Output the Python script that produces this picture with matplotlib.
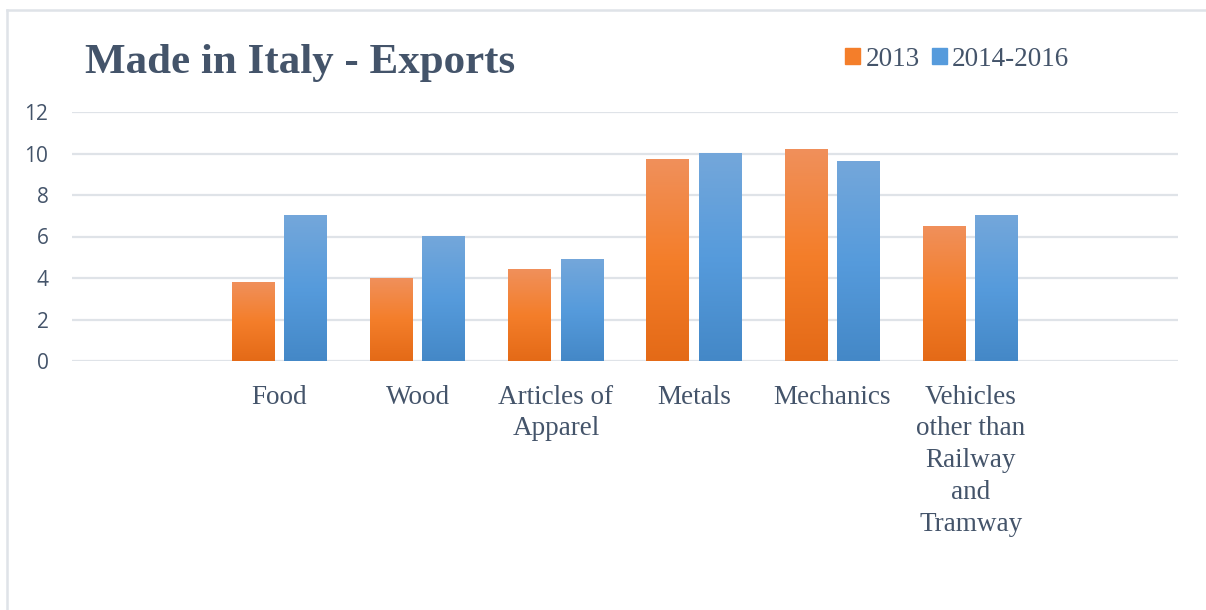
import numpy as np
import matplotlib
matplotlib.use("Agg")
import matplotlib.pyplot as plt
from matplotlib.colors import LinearSegmentedColormap
from matplotlib.patches import Rectangle
from matplotlib.lines import Line2D

# Categories (empty slots at both ends keep the category spacing of the layout)
categories = ["", "Food", "Wood", "Articles of\nApparel", "Metals", "Mechanics",
              "Vehicles\nother than\nRailway\nand\nTramway", ""]
exports_2013 = [np.nan, 3.8, 4.0, 4.4, 9.7, 10.2, 6.5, np.nan]
exports_2014_2016 = [np.nan, 7.0, 6.0, 4.9, 10.0, 9.6, 7.0, np.nan]
series_labels = ["2013", "2014-2016"]
y_ticks = [0, 2, 4, 6, 8, 10, 12]

TEXT = "#44546A"
GRID = "#DFE3E8"
orange_grad = ["#E46A17", "#F47E2A", "#F0905B"]   # bottom -> middle -> top
blue_grad = ["#4488C7", "#569BDC", "#74A7DA"]

fig = plt.figure(figsize=(12.06, 6.10), dpi=100)
ax = fig.add_axes([72 / 1206, 1 - 361 / 610, 1106 / 1206, 249 / 610])

x = np.arange(len(categories))
width = 0.31
offset = 0.19

bars_a = ax.bar(x - offset, exports_2013, width, color=orange_grad[1], zorder=2)
bars_b = ax.bar(x + offset, exports_2014_2016, width, color=blue_grad[1], zorder=2)


def paint_gradient(bars, colors):
    cmap = LinearSegmentedColormap.from_list("g", colors)
    grad = np.linspace(0, 1, 256).reshape(-1, 1)
    for b in bars:
        h = b.get_height()
        if not np.isfinite(h) or h == 0:
            continue
        x0 = b.get_x()
        w = b.get_width()
        ax.imshow(grad, extent=(x0, x0 + w, 0, h), origin="lower",
                  cmap=cmap, aspect="auto", zorder=3, interpolation="bilinear")


paint_gradient(bars_a, orange_grad)
paint_gradient(bars_b, blue_grad)

ax.set_xlim(-0.5, len(categories) - 0.5)
ax.set_ylim(0, 12)
ax.set_yticks(y_ticks)
ax.set_xticks(x)
ax.set_xticklabels(categories, fontfamily="Liberation Serif", fontsize=19.5,
                   color=TEXT, linespacing=1.36, va="top")
ax.tick_params(axis="x", length=0, pad=17)
ax.tick_params(axis="y", length=0, pad=17, labelsize=15, labelcolor="#44546A")
for lbl in ax.get_yticklabels():
    lbl.set_fontfamily("Open Sans")

ax.grid(axis="y", color=GRID, linewidth=1.6, zorder=0)
ax.set_axisbelow(True)
for s in ax.spines.values():
    s.set_visible(False)

# Title
fig.text(85 / 1206, 1 - 73 / 610, "Made in Italy - Exports", fontfamily="Liberation Serif",
         fontweight="bold", fontsize=31, color=TEXT, ha="left", va="baseline")

# Legend
handles = [Rectangle((0, 0), 1, 1, color=orange_grad[1]),
           Rectangle((0, 0), 1, 1, color=blue_grad[1])]
leg = fig.legend(handles, series_labels, loc="center left",
                 bbox_to_anchor=(845 / 1206, 1 - 59 / 610), ncol=2, frameon=False,
                 prop={"family": "Liberation Serif", "size": 19.5},
                 handlelength=0.55, handleheight=0.55, handletextpad=0.2,
                 columnspacing=0.45, borderpad=0, borderaxespad=0)
for t in leg.get_texts():
    t.set_color(TEXT)

# Outer chart frame (top and left edges)
fig.add_artist(Line2D([7 / 1206, 1], [1 - 10 / 610, 1 - 10 / 610],
                      transform=fig.transFigure, color=GRID, linewidth=1.8))
fig.add_artist(Line2D([7 / 1206, 7 / 1206], [0, 1 - 10 / 610],
                      transform=fig.transFigure, color=GRID, linewidth=1.8))

fig.savefig("out.png", dpi=100, facecolor="white")
